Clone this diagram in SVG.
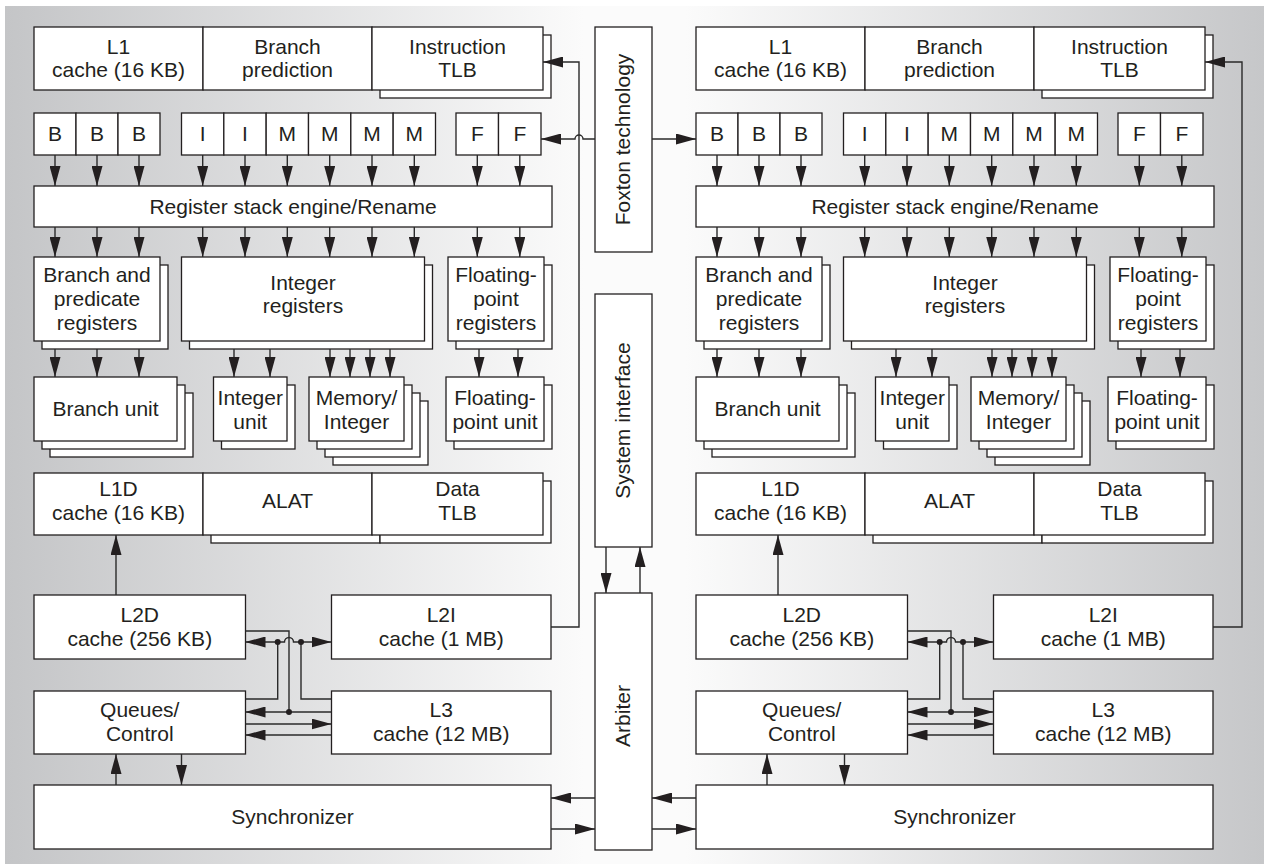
<svg xmlns="http://www.w3.org/2000/svg" width="1264" height="865" viewBox="0 0 1264 865">
<defs>
<linearGradient id="bg" x1="5" y1="0" x2="1264" y2="0" gradientUnits="userSpaceOnUse">
<stop offset="0" stop-color="#c4c5c7"/>
<stop offset="0.46" stop-color="#fbfbfb"/>
<stop offset="0.54" stop-color="#fbfbfb"/>
<stop offset="1" stop-color="#c6c7c9"/>
</linearGradient>
<marker id="ah" markerUnits="userSpaceOnUse" markerWidth="20" markerHeight="11" refX="20" refY="5.5" orient="auto-start-reverse" viewBox="0 0 20 11">
<path d="M0,0L20,5.5L0,11z" fill="#231f20"/>
</marker>
</defs>
<style>
.b{fill:#fff;stroke:#231f20;stroke-width:1.3}
.c{fill:none;stroke:#2a2a2a;stroke-width:1.4}
.a{marker-end:url(#ah)}
.d{marker-start:url(#ah);marker-end:url(#ah)}
.t{font-family:"Liberation Sans",Arial,sans-serif;font-size:21px;fill:#231f20;text-anchor:middle}
.dot{fill:#231f20}
</style>
<rect x="5" y="6" width="1259" height="858" fill="url(#bg)"/>

<g id="left-core">
<g id="l-l1"><rect class="b" x="34" y="27" width="169" height="63"/><text class="t" x="118.5" y="54">L1</text><text class="t" x="118.5" y="77">cache (16 KB)</text></g>
<g id="l-bp"><rect class="b" x="203" y="27" width="169" height="63"/><text class="t" x="287.5" y="54">Branch</text><text class="t" x="287.5" y="77">prediction</text></g>
<g id="l-itlb"><rect class="b" x="380" y="35" width="171" height="63"/><rect class="b" x="372" y="27" width="171" height="63"/><text class="t" x="457.5" y="54">Instruction</text><text class="t" x="457.5" y="77">TLB</text></g>
<g id="l-b1"><rect class="b" x="34" y="113" width="42" height="42"/><text class="t" x="55" y="141">B</text></g>
<g id="l-b2"><rect class="b" x="76" y="113" width="42" height="42"/><text class="t" x="97" y="141">B</text></g>
<g id="l-b3"><rect class="b" x="118" y="113" width="42" height="42"/><text class="t" x="139" y="141">B</text></g>
<g id="l-i1"><rect class="b" x="181.5" y="113" width="42.33" height="42"/><text class="t" x="202.7" y="141">I</text></g>
<g id="l-i2"><rect class="b" x="223.83" y="113" width="42.33" height="42"/><text class="t" x="245" y="141">I</text></g>
<g id="l-m1"><rect class="b" x="266.17" y="113" width="42.33" height="42"/><text class="t" x="287.3" y="141">M</text></g>
<g id="l-m2"><rect class="b" x="308.5" y="113" width="42.33" height="42"/><text class="t" x="329.7" y="141">M</text></g>
<g id="l-m3"><rect class="b" x="350.83" y="113" width="42.33" height="42"/><text class="t" x="372" y="141">M</text></g>
<g id="l-m4"><rect class="b" x="393.17" y="113" width="42.33" height="42"/><text class="t" x="414.3" y="141">M</text></g>
<g id="l-f1"><rect class="b" x="456" y="113" width="42.5" height="42"/><text class="t" x="477.3" y="141">F</text></g>
<g id="l-f2"><rect class="b" x="498.5" y="113" width="42.5" height="42"/><text class="t" x="519.8" y="141">F</text></g>
<g id="l-rse"><rect class="b" x="34" y="186" width="518" height="41"/><text class="t" x="293" y="214">Register stack engine/Rename</text></g>
<g id="l-bpr"><rect class="b" x="42" y="265" width="126" height="84"/><rect class="b" x="34" y="257" width="126" height="84"/><text class="t" x="97" y="282">Branch and</text><text class="t" x="97" y="306">predicate</text><text class="t" x="97" y="330">registers</text></g>
<g id="l-ir"><rect class="b" x="189.5" y="265" width="243" height="84"/><rect class="b" x="181.5" y="257" width="243" height="84"/><text class="t" x="303" y="290">Integer</text><text class="t" x="303" y="313">registers</text></g>
<g id="l-fpr"><rect class="b" x="456" y="265" width="96" height="84"/><rect class="b" x="448" y="257" width="96" height="84"/><text class="t" x="496" y="282">Floating-</text><text class="t" x="496" y="306">point</text><text class="t" x="496" y="330">registers</text></g>
<g id="l-bu"><rect class="b" x="50" y="393" width="143" height="64"/><rect class="b" x="42" y="385" width="143" height="64"/><rect class="b" x="34" y="377" width="143" height="64"/><text class="t" x="105.5" y="416">Branch unit</text></g>
<g id="l-iu"><rect class="b" x="221.5" y="385" width="73.5" height="64"/><rect class="b" x="213.5" y="377" width="73.5" height="64"/><text class="t" x="250.25" y="405">Integer</text><text class="t" x="250.25" y="429">unit</text></g>
<g id="l-mi"><rect class="b" x="333" y="401" width="95" height="64"/><rect class="b" x="325" y="393" width="95" height="64"/><rect class="b" x="317" y="385" width="95" height="64"/><rect class="b" x="309" y="377" width="95" height="64"/><text class="t" x="356.5" y="405">Memory/</text><text class="t" x="356.5" y="429">Integer</text></g>
<g id="l-fpu"><rect class="b" x="454" y="385" width="98" height="64"/><rect class="b" x="446" y="377" width="98" height="64"/><text class="t" x="495" y="405">Floating-</text><text class="t" x="495" y="429">point unit</text></g>
<g id="l-l1d"><rect class="b" x="34" y="473" width="169" height="62"/><text class="t" x="118.5" y="496">L1D</text><text class="t" x="118.5" y="520">cache (16 KB)</text></g>
<g id="l-alat"><rect class="b" x="211" y="481" width="169" height="62"/><rect class="b" x="203" y="473" width="169" height="62"/><text class="t" x="287.5" y="508">ALAT</text></g>
<g id="l-dtlb"><rect class="b" x="380" y="481" width="171" height="62"/><rect class="b" x="372" y="473" width="171" height="62"/><text class="t" x="457.5" y="496">Data</text><text class="t" x="457.5" y="520">TLB</text></g>
<g id="l-l2d"><rect class="b" x="34" y="595" width="211.5" height="64"/><text class="t" x="139.75" y="622">L2D</text><text class="t" x="139.75" y="646">cache (256 KB)</text></g>
<g id="l-l2i"><rect class="b" x="331.5" y="595" width="219.5" height="64"/><text class="t" x="441.25" y="622">L2I</text><text class="t" x="441.25" y="646">cache (1 MB)</text></g>
<g id="l-qc"><rect class="b" x="34" y="691" width="211.5" height="63"/><text class="t" x="139.75" y="717">Queues/</text><text class="t" x="139.75" y="741">Control</text></g>
<g id="l-l3"><rect class="b" x="331.5" y="691" width="219.5" height="63"/><text class="t" x="441.25" y="717">L3</text><text class="t" x="441.25" y="741">cache (12 MB)</text></g>
<g id="l-sync"><rect class="b" x="34" y="785" width="517" height="64"/><text class="t" x="292.5" y="824">Synchronizer</text></g>
</g>

<g id="right-core" transform="translate(662,0)">
<g id="r-l1"><rect class="b" x="34" y="27" width="169" height="63"/><text class="t" x="118.5" y="54">L1</text><text class="t" x="118.5" y="77">cache (16 KB)</text></g>
<g id="r-bp"><rect class="b" x="203" y="27" width="169" height="63"/><text class="t" x="287.5" y="54">Branch</text><text class="t" x="287.5" y="77">prediction</text></g>
<g id="r-itlb"><rect class="b" x="380" y="35" width="171" height="63"/><rect class="b" x="372" y="27" width="171" height="63"/><text class="t" x="457.5" y="54">Instruction</text><text class="t" x="457.5" y="77">TLB</text></g>
<g id="r-b1"><rect class="b" x="34" y="113" width="42" height="42"/><text class="t" x="55" y="141">B</text></g>
<g id="r-b2"><rect class="b" x="76" y="113" width="42" height="42"/><text class="t" x="97" y="141">B</text></g>
<g id="r-b3"><rect class="b" x="118" y="113" width="42" height="42"/><text class="t" x="139" y="141">B</text></g>
<g id="r-i1"><rect class="b" x="181.5" y="113" width="42.33" height="42"/><text class="t" x="202.7" y="141">I</text></g>
<g id="r-i2"><rect class="b" x="223.83" y="113" width="42.33" height="42"/><text class="t" x="245" y="141">I</text></g>
<g id="r-m1"><rect class="b" x="266.17" y="113" width="42.33" height="42"/><text class="t" x="287.3" y="141">M</text></g>
<g id="r-m2"><rect class="b" x="308.5" y="113" width="42.33" height="42"/><text class="t" x="329.7" y="141">M</text></g>
<g id="r-m3"><rect class="b" x="350.83" y="113" width="42.33" height="42"/><text class="t" x="372" y="141">M</text></g>
<g id="r-m4"><rect class="b" x="393.17" y="113" width="42.33" height="42"/><text class="t" x="414.3" y="141">M</text></g>
<g id="r-f1"><rect class="b" x="456" y="113" width="42.5" height="42"/><text class="t" x="477.3" y="141">F</text></g>
<g id="r-f2"><rect class="b" x="498.5" y="113" width="42.5" height="42"/><text class="t" x="519.8" y="141">F</text></g>
<g id="r-rse"><rect class="b" x="34" y="186" width="518" height="41"/><text class="t" x="293" y="214">Register stack engine/Rename</text></g>
<g id="r-bpr"><rect class="b" x="42" y="265" width="126" height="84"/><rect class="b" x="34" y="257" width="126" height="84"/><text class="t" x="97" y="282">Branch and</text><text class="t" x="97" y="306">predicate</text><text class="t" x="97" y="330">registers</text></g>
<g id="r-ir"><rect class="b" x="189.5" y="265" width="243" height="84"/><rect class="b" x="181.5" y="257" width="243" height="84"/><text class="t" x="303" y="290">Integer</text><text class="t" x="303" y="313">registers</text></g>
<g id="r-fpr"><rect class="b" x="456" y="265" width="96" height="84"/><rect class="b" x="448" y="257" width="96" height="84"/><text class="t" x="496" y="282">Floating-</text><text class="t" x="496" y="306">point</text><text class="t" x="496" y="330">registers</text></g>
<g id="r-bu"><rect class="b" x="50" y="393" width="143" height="64"/><rect class="b" x="42" y="385" width="143" height="64"/><rect class="b" x="34" y="377" width="143" height="64"/><text class="t" x="105.5" y="416">Branch unit</text></g>
<g id="r-iu"><rect class="b" x="221.5" y="385" width="73.5" height="64"/><rect class="b" x="213.5" y="377" width="73.5" height="64"/><text class="t" x="250.25" y="405">Integer</text><text class="t" x="250.25" y="429">unit</text></g>
<g id="r-mi"><rect class="b" x="333" y="401" width="95" height="64"/><rect class="b" x="325" y="393" width="95" height="64"/><rect class="b" x="317" y="385" width="95" height="64"/><rect class="b" x="309" y="377" width="95" height="64"/><text class="t" x="356.5" y="405">Memory/</text><text class="t" x="356.5" y="429">Integer</text></g>
<g id="r-fpu"><rect class="b" x="454" y="385" width="98" height="64"/><rect class="b" x="446" y="377" width="98" height="64"/><text class="t" x="495" y="405">Floating-</text><text class="t" x="495" y="429">point unit</text></g>
<g id="r-l1d"><rect class="b" x="34" y="473" width="169" height="62"/><text class="t" x="118.5" y="496">L1D</text><text class="t" x="118.5" y="520">cache (16 KB)</text></g>
<g id="r-alat"><rect class="b" x="211" y="481" width="169" height="62"/><rect class="b" x="203" y="473" width="169" height="62"/><text class="t" x="287.5" y="508">ALAT</text></g>
<g id="r-dtlb"><rect class="b" x="380" y="481" width="171" height="62"/><rect class="b" x="372" y="473" width="171" height="62"/><text class="t" x="457.5" y="496">Data</text><text class="t" x="457.5" y="520">TLB</text></g>
<g id="r-l2d"><rect class="b" x="34" y="595" width="211.5" height="64"/><text class="t" x="139.75" y="622">L2D</text><text class="t" x="139.75" y="646">cache (256 KB)</text></g>
<g id="r-l2i"><rect class="b" x="331.5" y="595" width="219.5" height="64"/><text class="t" x="441.25" y="622">L2I</text><text class="t" x="441.25" y="646">cache (1 MB)</text></g>
<g id="r-qc"><rect class="b" x="34" y="691" width="211.5" height="63"/><text class="t" x="139.75" y="717">Queues/</text><text class="t" x="139.75" y="741">Control</text></g>
<g id="r-l3"><rect class="b" x="331.5" y="691" width="219.5" height="63"/><text class="t" x="441.25" y="717">L3</text><text class="t" x="441.25" y="741">cache (12 MB)</text></g>
<g id="r-sync"><rect class="b" x="34" y="785" width="517" height="64"/><text class="t" x="292.5" y="824">Synchronizer</text></g>
</g>

<g id="foxton"><rect class="b" x="595" y="27" width="57" height="225"/><text class="t" transform="translate(630,139.5) rotate(-90)">Foxton technology</text></g>
<g id="sysint"><rect class="b" x="595" y="294" width="57" height="253"/><text class="t" transform="translate(630,420.5) rotate(-90)">System interface</text></g>
<g id="arbiter"><rect class="b" x="595" y="593" width="57" height="257"/><text class="t" transform="translate(630,716) rotate(-90)">Arbiter</text></g>

<g id="connectors">
<g id="left-connectors">
<line class="c a" x1="55" y1="155" x2="55" y2="186"/>
<line class="c a" x1="97" y1="155" x2="97" y2="186"/>
<line class="c a" x1="139" y1="155" x2="139" y2="186"/>
<line class="c a" x1="202.7" y1="155" x2="202.7" y2="186"/>
<line class="c a" x1="245" y1="155" x2="245" y2="186"/>
<line class="c a" x1="287.3" y1="155" x2="287.3" y2="186"/>
<line class="c a" x1="329.7" y1="155" x2="329.7" y2="186"/>
<line class="c a" x1="372" y1="155" x2="372" y2="186"/>
<line class="c a" x1="414.3" y1="155" x2="414.3" y2="186"/>
<line class="c a" x1="477.3" y1="155" x2="477.3" y2="186"/>
<line class="c a" x1="519.8" y1="155" x2="519.8" y2="186"/>
<line class="c a" x1="55" y1="227" x2="55" y2="257"/>
<line class="c a" x1="97" y1="227" x2="97" y2="257"/>
<line class="c a" x1="139" y1="227" x2="139" y2="257"/>
<line class="c a" x1="202.7" y1="227" x2="202.7" y2="257"/>
<line class="c a" x1="245" y1="227" x2="245" y2="257"/>
<line class="c a" x1="287.3" y1="227" x2="287.3" y2="257"/>
<line class="c a" x1="329.7" y1="227" x2="329.7" y2="257"/>
<line class="c a" x1="372" y1="227" x2="372" y2="257"/>
<line class="c a" x1="414.3" y1="227" x2="414.3" y2="257"/>
<line class="c a" x1="477.3" y1="227" x2="477.3" y2="257"/>
<line class="c a" x1="519.8" y1="227" x2="519.8" y2="257"/>
<line class="c a" x1="55" y1="349" x2="55" y2="377"/>
<line class="c a" x1="97" y1="349" x2="97" y2="377"/>
<line class="c a" x1="139" y1="349" x2="139" y2="377"/>
<line class="c a" x1="234" y1="349" x2="234" y2="377"/>
<line class="c a" x1="270" y1="349" x2="270" y2="377"/>
<line class="c a" x1="330" y1="349" x2="330" y2="377"/>
<line class="c a" x1="350" y1="349" x2="350" y2="377"/>
<line class="c a" x1="370" y1="349" x2="370" y2="377"/>
<line class="c a" x1="390" y1="349" x2="390" y2="377"/>
<line class="c a" x1="479" y1="349" x2="479" y2="377"/>
<line class="c a" x1="518" y1="349" x2="518" y2="377"/>
<line class="c a" x1="116" y1="595" x2="116" y2="535"/>
<line class="c a" x1="116" y1="785" x2="116" y2="754"/>
<line class="c a" x1="181.5" y1="754" x2="181.5" y2="785"/>
<path class="c a" d="M551,627H579V62H543"/>
<path class="c" d="M245.5,631H289V712"/>
<path class="c d" d="M245.5,642H284.5A4.5,4.5 0 0 1 293.5,642H331.5"/>
<path class="c" d="M245.5,699H277.7V642"/>
<path class="c" d="M331.5,699H301V642"/>
<line class="c a" x1="331.5" y1="712" x2="245.5" y2="712"/>
<line class="c a" x1="245.5" y1="724" x2="331.5" y2="724"/>
<line class="c a" x1="331.5" y1="735" x2="245.5" y2="735"/>
<circle class="dot" cx="277.7" cy="642" r="3"/>
<circle class="dot" cx="301" cy="642" r="3"/>
<circle class="dot" cx="289" cy="712" r="3"/>
</g>
<g id="right-connectors" transform="translate(662,0)">
<line class="c a" x1="55" y1="155" x2="55" y2="186"/>
<line class="c a" x1="97" y1="155" x2="97" y2="186"/>
<line class="c a" x1="139" y1="155" x2="139" y2="186"/>
<line class="c a" x1="202.7" y1="155" x2="202.7" y2="186"/>
<line class="c a" x1="245" y1="155" x2="245" y2="186"/>
<line class="c a" x1="287.3" y1="155" x2="287.3" y2="186"/>
<line class="c a" x1="329.7" y1="155" x2="329.7" y2="186"/>
<line class="c a" x1="372" y1="155" x2="372" y2="186"/>
<line class="c a" x1="414.3" y1="155" x2="414.3" y2="186"/>
<line class="c a" x1="477.3" y1="155" x2="477.3" y2="186"/>
<line class="c a" x1="519.8" y1="155" x2="519.8" y2="186"/>
<line class="c a" x1="55" y1="227" x2="55" y2="257"/>
<line class="c a" x1="97" y1="227" x2="97" y2="257"/>
<line class="c a" x1="139" y1="227" x2="139" y2="257"/>
<line class="c a" x1="202.7" y1="227" x2="202.7" y2="257"/>
<line class="c a" x1="245" y1="227" x2="245" y2="257"/>
<line class="c a" x1="287.3" y1="227" x2="287.3" y2="257"/>
<line class="c a" x1="329.7" y1="227" x2="329.7" y2="257"/>
<line class="c a" x1="372" y1="227" x2="372" y2="257"/>
<line class="c a" x1="414.3" y1="227" x2="414.3" y2="257"/>
<line class="c a" x1="477.3" y1="227" x2="477.3" y2="257"/>
<line class="c a" x1="519.8" y1="227" x2="519.8" y2="257"/>
<line class="c a" x1="55" y1="349" x2="55" y2="377"/>
<line class="c a" x1="97" y1="349" x2="97" y2="377"/>
<line class="c a" x1="139" y1="349" x2="139" y2="377"/>
<line class="c a" x1="234" y1="349" x2="234" y2="377"/>
<line class="c a" x1="270" y1="349" x2="270" y2="377"/>
<line class="c a" x1="330" y1="349" x2="330" y2="377"/>
<line class="c a" x1="350" y1="349" x2="350" y2="377"/>
<line class="c a" x1="370" y1="349" x2="370" y2="377"/>
<line class="c a" x1="390" y1="349" x2="390" y2="377"/>
<line class="c a" x1="479" y1="349" x2="479" y2="377"/>
<line class="c a" x1="518" y1="349" x2="518" y2="377"/>
<line class="c a" x1="116" y1="595" x2="116" y2="535"/>
<line class="c a" x1="105" y1="785" x2="105" y2="754"/>
<line class="c a" x1="182.5" y1="754" x2="182.5" y2="785"/>
<path class="c a" d="M551,627H580V62H543"/>
<path class="c" d="M245.5,631H289V712"/>
<path class="c d" d="M245.5,642H284.5A4.5,4.5 0 0 1 293.5,642H331.5"/>
<path class="c" d="M245.5,699H277.7V642"/>
<path class="c" d="M331.5,699H301V642"/>
<line class="c d" x1="245.5" y1="712" x2="331.5" y2="712"/>
<line class="c a" x1="245.5" y1="724" x2="331.5" y2="724"/>
<line class="c a" x1="331.5" y1="735" x2="245.5" y2="735"/>
<circle class="dot" cx="277.7" cy="642" r="3"/>
<circle class="dot" cx="301" cy="642" r="3"/>
<circle class="dot" cx="289" cy="712" r="3"/>
</g>
<g id="center-connectors">
<path class="c a" d="M595,139H583A4,4 0 0 0 575,139H541"/>
<line class="c a" x1="652" y1="139" x2="696" y2="139"/>
<line class="c a" x1="606" y1="547" x2="606" y2="593"/>
<line class="c a" x1="640" y1="593" x2="640" y2="547"/>
<line class="c a" x1="595" y1="798" x2="551" y2="798"/>
<line class="c a" x1="551" y1="829" x2="595" y2="829"/>
<line class="c a" x1="696" y1="798" x2="652" y2="798"/>
<line class="c a" x1="652" y1="829" x2="696" y2="829"/>
</g>
</g>
</svg>
